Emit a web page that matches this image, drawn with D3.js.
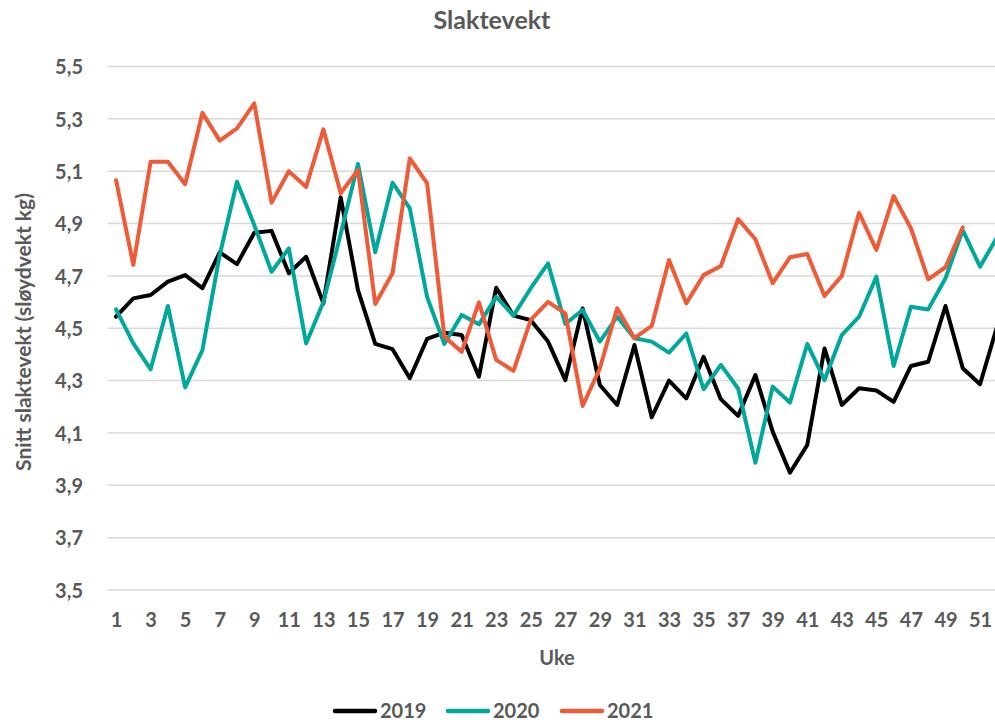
<!DOCTYPE html>
<html><head><meta charset="utf-8">
<script src="https://cdn.jsdelivr.net/npm/d3@7"></script>
<style>
html,body{margin:0;padding:0;background:#fff;overflow:hidden;}
text{font-family:Lato,"Open Sans",sans-serif;font-weight:700;fill:#595959;}
</style></head>
<body>
<svg id="chart" width="995" height="722"></svg>
<script>
const weeks = d3.range(1, 53);
const yTicks = [3.5, 3.7, 3.9, 4.1, 4.3, 4.5, 4.7, 4.9, 5.1, 5.3, 5.5];
const xTickLabels = d3.range(1, 53, 2);
const seriesNames = ["2019", "2020", "2021"];
const v2019 = [4.544,4.614,4.627,4.678,4.703,4.653,4.79,4.745,4.865,4.872,
  4.71,4.773,4.595,5.0,4.646,4.44,4.42,4.309,4.459,4.483,
  4.474,4.315,4.655,4.548,4.531,4.449,4.302,4.576,4.283,4.207,
  4.436,4.16,4.3,4.232,4.391,4.229,4.165,4.321,4.105,3.948,
  4.054,4.423,4.207,4.271,4.262,4.219,4.356,4.372,4.585,4.347,
  4.286,4.51];
const v2020 = [4.572,4.442,4.343,4.585,4.274,4.417,4.78,5.06,4.894,4.716,
  4.805,4.442,4.6,4.86,5.128,4.79,5.056,4.958,4.62,4.44,
  4.551,4.515,4.62,4.548,4.653,4.748,4.516,4.57,4.449,4.544,
  4.462,4.449,4.407,4.48,4.267,4.36,4.27,3.986,4.277,4.216,
  4.44,4.302,4.474,4.544,4.697,4.356,4.582,4.572,4.691,4.875,
  4.735,4.85];
const v2021 = [5.066,4.742,5.136,5.136,5.05,5.323,5.217,5.264,5.359,4.98,
  5.10,5.04,5.26,5.016,5.105,4.593,4.71,5.149,5.054,4.468,
  4.41,4.599,4.379,4.337,4.532,4.601,4.557,4.203,4.347,4.576,
  4.462,4.509,4.761,4.595,4.703,4.738,4.917,4.84,4.672,4.771,
  4.784,4.623,4.7,4.941,4.799,5.005,4.882,4.687,4.733,4.886];
const colors = ["#000000", "#00a89c", "#ee5b36"];

const series = [v2019, v2020, v2021];
const svg = d3.select("#chart");
const fmt = v => d3.format(".1f")(v).replace(".", ",");

const plotLeft = 107.4, step = 17.28;
const x = d3.scaleLinear().domain([0.5, 52.5]).range([plotLeft, plotLeft + 52 * step]);
const y = d3.scaleLinear().domain([3.5, 5.5]).range([590, 66.5]);

// gridlines
svg.append("g").selectAll("line").data(yTicks).join("line")
  .attr("x1", plotLeft).attr("x2", 1010)
  .attr("y1", d => y(d)).attr("y2", d => y(d))
  .attr("stroke", "#d9d9d9").attr("stroke-width", 1.5);

// y axis labels
const yAxis = d3.axisLeft(y).tickValues(yTicks).tickFormat(fmt).tickSize(0).tickPadding(0);
const gy = svg.append("g").attr("transform", "translate(83,0)").call(yAxis);
gy.select(".domain").remove();
gy.selectAll("text").attr("font-size", 20).attr("dy", "0.36em")
  .style("font-family", "Lato").style("font-weight", 700).style("fill", "#595959");

// x axis labels
const xAxis = d3.axisBottom(x).tickValues(xTickLabels).tickFormat(d => d).tickSize(0).tickPadding(0);
const gx = svg.append("g").attr("transform", "translate(0,613)").call(xAxis);
gx.select(".domain").remove();
gx.selectAll("text").attr("font-size", 20).attr("dy", "0.71em")
  .style("font-family", "Lato").style("font-weight", 700).style("fill", "#595959");

// lines
const line = d3.line().x((d, i) => x(weeks[i])).y(d => y(d));
svg.append("g").selectAll("path").data(series).join("path")
  .attr("d", d => line(d))
  .attr("fill", "none")
  .attr("stroke", (d, i) => colors[i])
  .attr("stroke-width", 4)
  .attr("stroke-linejoin", "round")
  .attr("stroke-linecap", "round");

// title
svg.append("text").attr("x", 492).attr("y", 29).attr("text-anchor", "middle")
  .attr("font-size", 25).text("Slaktevekt");

// axis titles
svg.append("text").attr("x", 557).attr("y", 665).attr("text-anchor", "middle")
  .attr("font-size", 20).text("Uke");
svg.append("text").attr("transform", "translate(31,332) rotate(-90)")
  .attr("text-anchor", "middle").attr("font-size", 21)
  .text("Snitt slaktevekt (sløydvekt kg)");

// legend
const legX = [335, 448, 562];
const lg = svg.append("g").selectAll("g").data(seriesNames).join("g")
  .attr("transform", (d, i) => `translate(${legX[i]},711)`);
lg.append("line").attr("x1", 0).attr("x2", 40).attr("y1", 0).attr("y2", 0)
  .attr("stroke", (d, i) => colors[i]).attr("stroke-width", 4.5).attr("stroke-linecap", "round");
lg.append("text").attr("x", 45).attr("y", 7).attr("font-size", 20).text(d => d);
</script>
</body></html>
